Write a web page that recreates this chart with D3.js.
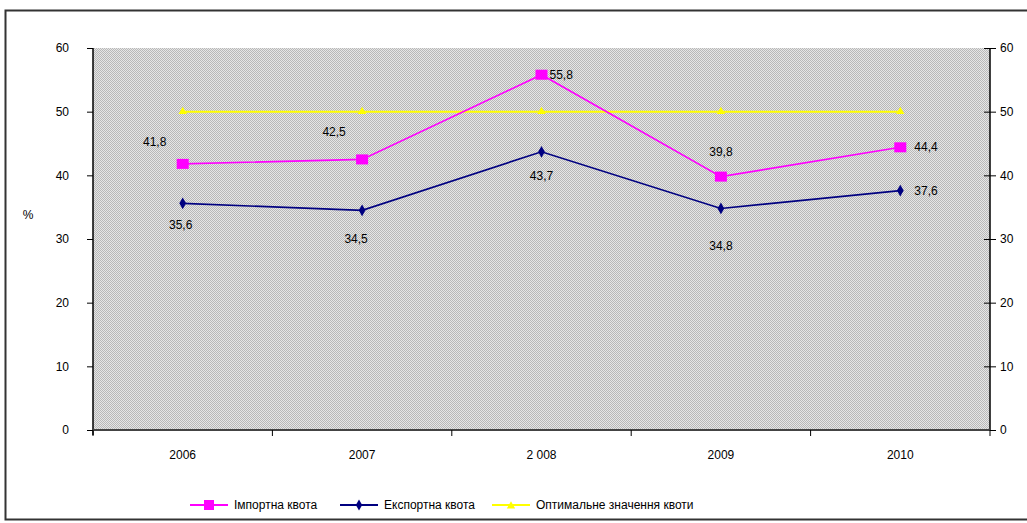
<!DOCTYPE html>
<html>
<head>
<meta charset="utf-8">
<script src="https://cdn.jsdelivr.net/npm/d3@7/dist/d3.min.js"></script>
<style>
  body { margin: 0; background: #fff; }
  text { font-family: "Liberation Sans Narrow", "Arial Narrow", "Liberation Sans", sans-serif; font-size: 12px; fill: #000; }
</style>
</head>
<body>
<script>
// data
var years = ["2006", "2007", "2 008", "2009", "2010"];
var importQuota = [41.8, 42.5, 55.8, 39.8, 44.4];
var exportQuota = [35.6, 34.5, 43.7, 34.8, 37.6];
var optimalQuota = [50, 50, 50, 50, 50];
var yTicks = [0, 10, 20, 30, 40, 50, 60];
var seriesNames = ["Імпортна квота", "Експортна квота", "Оптимальне значення квоти"];

// label offsets [dx, dy, anchor]
var importLabelPos = [[-28, -18, "middle"], [-28, -23, "middle"], [8, 4, "start"], [0, -21, "middle"], [14, 4, "start"]];
var exportLabelPos = [[-2, 26, "middle"], [-6, 33, "middle"], [0, 28, "middle"], [0, 42, "middle"], [14, 4, "start"]];

var svg = d3.select("body").append("svg")
  .attr("width", 1027).attr("height", 523);

// dithered grey background pattern
var defs = svg.append("defs");
var pat = defs.append("pattern").attr("id", "dots")
  .attr("width", 2).attr("height", 2).attr("patternUnits", "userSpaceOnUse");
pat.append("rect").attr("width", 2).attr("height", 2).attr("fill", "#e6e6e6");
pat.append("rect").attr("width", 1).attr("height", 1).attr("fill", "#b8b8b8");
pat.append("rect").attr("x", 1).attr("y", 1).attr("width", 1).attr("height", 1).attr("fill", "#b8b8b8");

// outer frame
svg.append("rect").attr("x", 5.5).attr("y", 10.5).attr("width", 1030).attr("height", 509)
  .attr("fill", "none").attr("stroke", "#333").attr("stroke-width", 2);

var pLeft = 93, pRight = 990, pTop = 48, pBottom = 430;

var x = d3.scaleBand().domain(years).range([pLeft, pRight]);
var y = d3.scaleLinear().domain([0, 60]).range([pBottom, pTop]);

svg.append("rect").attr("x", pLeft).attr("y", pTop)
  .attr("width", pRight - pLeft).attr("height", pBottom - pTop)
  .attr("fill", "url(#dots)");

// axes
var la = svg.append("g").attr("transform", "translate(" + pLeft + ",0)")
  .call(d3.axisLeft(y).tickValues(yTicks).tickSize(6).tickPadding(18));
la.select(".domain").remove();
svg.append("line").attr("x1", pLeft).attr("x2", pLeft).attr("y1", pTop).attr("y2", pBottom + 5)
  .attr("stroke", "#000").attr("stroke-width", 1.5);

var ra = svg.append("g").attr("transform", "translate(" + pRight + ",0)")
  .call(d3.axisRight(y).tickValues(yTicks).tickSize(6).tickPadding(4));
ra.select(".domain").remove();
ra.selectAll(".tick line").attr("x1", -6);
svg.append("line").attr("x1", pRight).attr("x2", pRight).attr("y1", pTop).attr("y2", pBottom)
  .attr("stroke", "#000").attr("stroke-width", 1.5);

svg.selectAll(".tick text").style("font-size", "12px").attr("fill", "#000")
  .style("font-family", "'Liberation Sans Narrow', 'Liberation Sans', sans-serif");
svg.selectAll(".tick line").attr("stroke", "#000");

svg.append("line").attr("x1", pLeft).attr("x2", pRight).attr("y1", pBottom).attr("y2", pBottom)
  .attr("stroke", "#444").attr("stroke-width", 2);
svg.selectAll(".xtick").data(years.concat([""])).enter().append("line")
  .attr("x1", function(d, i){ return pLeft + i * x.bandwidth(); })
  .attr("x2", function(d, i){ return pLeft + i * x.bandwidth(); })
  .attr("y1", pBottom).attr("y2", pBottom + 6)
  .attr("stroke", "#000");
svg.selectAll(".xlab").data(years).enter().append("text")
  .attr("x", function(d){ return x(d) + x.bandwidth() / 2; })
  .attr("y", 459).attr("text-anchor", "middle").text(function(d){ return d; });

svg.append("text").attr("x", 28).attr("y", 219).attr("text-anchor", "middle").text("%");

// lines
function cx(d, i){ return x(years[i]) + x.bandwidth() / 2; }
var line = d3.line().x(cx).y(function(d){ return y(d); });

svg.append("path").datum(optimalQuota).attr("d", line)
  .attr("fill", "none").attr("stroke", "#ffff00").attr("stroke-width", 2);
svg.selectAll(".optm").data(optimalQuota).enter().append("path")
  .attr("transform", function(d, i){ return "translate(" + cx(d, i) + "," + y(d) + ")"; })
  .attr("d", d3.symbol(d3.symbolTriangle, 30)).attr("fill", "#ffff00");

svg.append("path").datum(importQuota).attr("d", line)
  .attr("fill", "none").attr("stroke", "#ff00ff").attr("stroke-width", 1.6);
svg.selectAll(".impm").data(importQuota).enter().append("rect")
  .attr("x", function(d, i){ return cx(d, i) - 6; }).attr("y", function(d){ return y(d) - 5; })
  .attr("width", 12).attr("height", 10).attr("fill", "#ff00ff");

svg.append("path").datum(exportQuota).attr("d", line)
  .attr("fill", "none").attr("stroke", "#000080").attr("stroke-width", 1.6);
svg.selectAll(".expm").data(exportQuota).enter().append("path")
  .attr("transform", function(d, i){ return "translate(" + cx(d, i) + "," + y(d) + ")"; })
  .attr("d", d3.symbol(d3.symbolDiamond, 40)).attr("fill", "#000080");

// value labels
function fmt(v){ return v.toFixed(1).replace(".", ","); }
svg.selectAll(".impl").data(importQuota).enter().append("text")
  .attr("x", function(d, i){ return cx(d, i) + importLabelPos[i][0]; })
  .attr("y", function(d, i){ return y(d) + importLabelPos[i][1]; })
  .attr("text-anchor", function(d, i){ return importLabelPos[i][2]; })
  .text(fmt);
svg.selectAll(".expl").data(exportQuota).enter().append("text")
  .attr("x", function(d, i){ return cx(d, i) + exportLabelPos[i][0]; })
  .attr("y", function(d, i){ return y(d) + exportLabelPos[i][1]; })
  .attr("text-anchor", function(d, i){ return exportLabelPos[i][2]; })
  .text(fmt);

// legend
var legendX = [190, 340, 492];
var legendColors = ["#ff00ff", "#000080", "#ffff00"];
var lg = svg.selectAll(".leg").data(seriesNames).enter().append("g")
  .attr("transform", function(d, i){ return "translate(" + legendX[i] + ",505)"; });
lg.append("line").attr("x1", 0).attr("x2", 38).attr("stroke", function(d, i){ return legendColors[i]; })
  .attr("stroke-width", 2);
lg.each(function(d, i){
  var g = d3.select(this);
  if (i === 0) g.append("rect").attr("x", 14).attr("y", -5).attr("width", 10).attr("height", 10).attr("fill", legendColors[0]);
  if (i === 1) g.append("path").attr("transform", "translate(19,0)").attr("d", d3.symbol(d3.symbolDiamond, 35)).attr("fill", legendColors[1]);
  if (i === 2) g.append("path").attr("transform", "translate(19,1)").attr("d", d3.symbol(d3.symbolTriangle, 30)).attr("fill", legendColors[2]);
});
lg.append("text").attr("x", 44).attr("y", 4).text(function(d){ return d; });
</script>
</body>
</html>
